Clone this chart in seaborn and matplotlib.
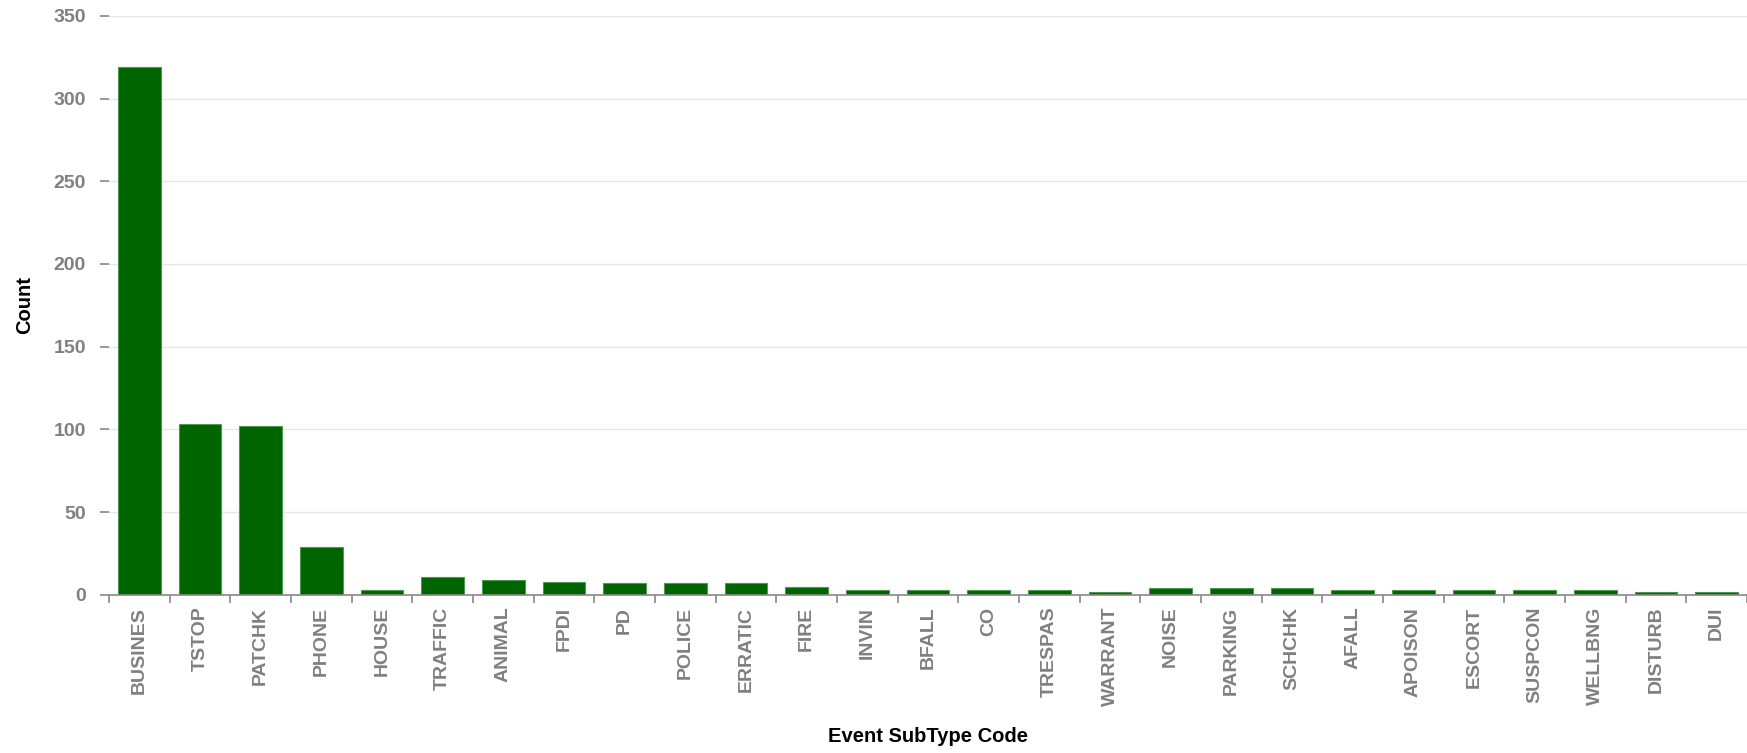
import seaborn as sns
import matplotlib.pyplot as plt
import pandas as pd
import numpy as np

# event subtype counts
codes = ["BUSINES", "TSTOP", "PATCHK", "PHONE", "HOUSE", "TRAFFIC", "ANIMAL", "FPDI",
         "PD", "POLICE", "ERRATIC", "FIRE", "INVIN", "BFALL", "CO", "TRESPAS", "WARRANT",
         "NOISE", "PARKING", "SCHCHK", "AFALL", "APOISON", "ESCORT", "SUSPCON", "WELLBNG",
         "DISTURB", "DUI"]
counts = [319, 103, 102, 29, 3, 11, 9, 8,
          7, 7, 7, 5, 3, 3, 3, 3, 2,
          4, 4, 4, 3, 3, 3, 3, 3,
          2, 2]
y_ticks = [0, 50, 100, 150, 200, 250, 300, 350]

df = pd.DataFrame({"code": codes, "count": counts})

sns.set_style("white")
plt.rcParams['font.family'] = ['Liberation Sans', 'DejaVu Sans']
plt.rcParams['font.weight'] = 'bold'

fig = plt.figure(figsize=(17.47, 7.53), dpi=100)
ax = fig.add_axes([0.0624, 0.21, 0.9376, 0.769])

sns.barplot(data=df, x="code", y="count", color="#006400", width=0.7,
            edgecolor="#4c9a4c", linewidth=0.8, saturation=1, ax=ax)

ax.set_ylim(0, 350)
ax.set_xlim(-0.5, len(codes) - 0.5)
ax.set_yticks(y_ticks)
ax.yaxis.grid(True, color="#e6e6e6", linewidth=1)
ax.set_axisbelow(True)

for s in ["top", "right", "left"]:
    ax.spines[s].set_visible(False)
ax.spines["bottom"].set_color("#888888")
ax.spines["bottom"].set_linewidth(1.2)

grey = "#808080"
# tick marks between bars, labels under bars
ax.set_xticks(np.arange(len(codes)))
ax.set_xticklabels(codes, rotation=90)
ax.set_xticks(np.arange(len(codes) + 1) - 0.5, minor=True)
ax.tick_params(axis="x", which="major", bottom=True, length=0, pad=8.5,
               labelsize=14, labelcolor=grey)
ax.tick_params(axis="x", which="minor", bottom=True, length=6, color="#888888", width=1.2)
ax.tick_params(axis="y", left=True, length=6.5, color="#888888", width=1.2, pad=10,
               labelsize=14, labelcolor=grey)

ax.set_xlabel("Event SubType Code", fontsize=14.5, fontweight="bold", color="black", labelpad=15)
ax.set_ylabel("Count", fontsize=14.5, fontweight="bold", color="black", labelpad=14)

fig.savefig("out.png", dpi=100)
